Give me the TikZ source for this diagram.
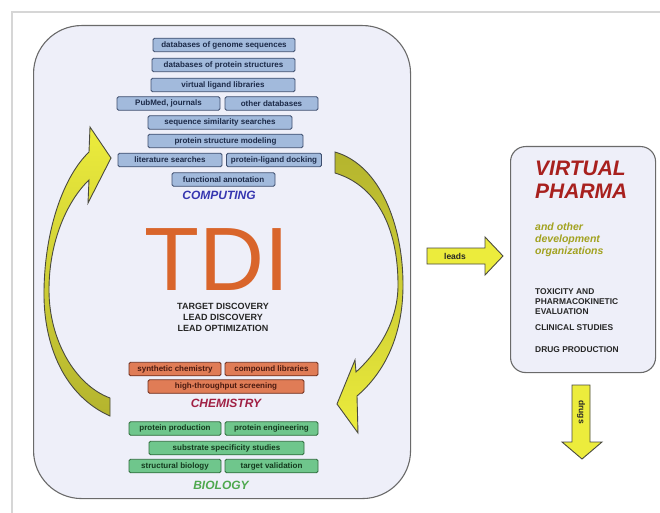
\documentclass[tikz,border=0pt]{standalone}
\usepackage{fontspec}
\setmainfont{Liberation Sans}
\definecolor{mainfill}{HTML}{EEEFF9}
\definecolor{mainline}{HTML}{6A6A6A}
\definecolor{bfill}{HTML}{A2BADC}
\definecolor{bline}{HTML}{3E4E6E}
\definecolor{btext}{HTML}{1C2A48}
\definecolor{ofill}{HTML}{E07C56}
\definecolor{oline}{HTML}{6E2E1E}
\definecolor{otext}{HTML}{4A1A10}
\definecolor{gfill}{HTML}{6FC68C}
\definecolor{gline}{HTML}{2E6C3C}
\definecolor{gtext}{HTML}{143A1E}
\definecolor{tdi}{HTML}{D9652B}
\definecolor{comp}{HTML}{3636B0}
\definecolor{chem}{HTML}{A02044}
\definecolor{bio}{HTML}{4EA84E}
\definecolor{vp}{HTML}{A8201E}
\definecolor{olivet}{HTML}{A2A220}
\definecolor{ylw}{HTML}{ECEC3C}
\definecolor{ylwdark}{HTML}{B4B42E}
\definecolor{arrline}{HTML}{4A4A40}
\definecolor{frame}{HTML}{D6D6D6}
\begin{document}
\begin{tikzpicture}[x=1pt,y=-1pt,
  tbox/.style={draw, rounded corners=1.5pt, minimum height=13.5pt, inner sep=0pt,
    line width=0.9pt, font=\fontsize{8}{8}\selectfont\bfseries},
  bluebox/.style={tbox, fill=bfill, draw=bline, text=btext},
  orangebox/.style={tbox, fill=ofill, draw=oline, text=otext},
  greenbox/.style={tbox, fill=gfill, draw=gline, text=gtext},
  grouplabel/.style={font=\fontsize{12}{12}\selectfont\bfseries\itshape, inner sep=0pt},
  smallcaps/.style={font=\fontsize{9}{11}\selectfont\bfseries, align=center, inner sep=0pt, text=black!85},
  yarrow/.style={draw=arrline, line width=0.9pt, fill=ylw},
  curvearrow/.style={draw=arrline, line width=0.9pt},
  panel/.style={draw=mainline, line width=1.1pt, fill=mainfill}
]
\useasboundingbox (0,0) rectangle (660,513);
% outer frame
\draw[frame, line width=2pt] (12,513) -- (12,12) -- (660,12);

% main panel
\node[panel, rounded corners=48pt, minimum width=377pt, minimum height=473pt, anchor=north west] (main) at (33,25) {};

% computing boxes
\node[bluebox, minimum width=142pt] (b1) at (224,45) {databases of genome sequences};
\node[bluebox, minimum width=143pt] (b2) at (223.5,65) {databases of protein structures};
\node[bluebox, minimum width=144pt] (b3) at (223,85) {virtual ligand libraries};
\node[bluebox, minimum width=103pt] (b4) at (168.5,103.5) {PubMed, journals};
\node[bluebox, minimum width=93pt] (b5) at (271.5,103.5) {other databases};
\node[bluebox, minimum width=144pt] (b6) at (220,122.5) {sequence similarity searches};
\node[bluebox, minimum width=155pt] (b7) at (225.5,141) {protein structure modeling};
\node[bluebox, minimum width=104pt] (b8) at (170,160) {literature searches};
\node[bluebox, minimum width=95pt] (b9) at (274,160) {protein-ligand docking};
\node[bluebox, minimum width=103pt] (b10) at (223.5,179.5) {functional annotation};
\node[grouplabel, text=comp] (computing) at (219,195) {COMPUTING};

% TDI
\node[font=\fontsize{90}{90}\selectfont, text=tdi, draw=tdi, line width=0pt, draw opacity=0, inner sep=0pt, text depth=0pt, anchor=base] (tdi) at (217,290) {TDI};
\node[smallcaps] (phases) at (223,317) {TARGET DISCOVERY\\LEAD DISCOVERY\\LEAD OPTIMIZATION};

% chemistry
\node[orangebox, minimum width=92pt] (o1) at (175,369) {synthetic chemistry};
\node[orangebox, minimum width=93pt] (o2) at (271.5,369) {compound libraries};
\node[orangebox, minimum width=156pt] (o3) at (226,386.5) {high-throughput screening};
\node[grouplabel, text=chem] (chemistry) at (226,403) {CHEMISTRY};

% biology
\node[greenbox, minimum width=92pt] (g1) at (175,428.5) {protein production};
\node[greenbox, minimum width=93pt] (g2) at (271.5,428.5) {protein engineering};
\node[greenbox, minimum width=155pt] (g3) at (226.5,448) {substrate specificity studies};
\node[greenbox, minimum width=92pt] (g4) at (175,466) {structural biology};
\node[greenbox, minimum width=93pt] (g5) at (271.5,466) {target validation};
\node[grouplabel, text=bio] (biology) at (221,485) {BIOLOGY};

% left curved arrow (up)
\path[curvearrow, top color=ylw, bottom color=ylwdark]
  (110,416) .. controls (65,396) and (43,346) .. (44,290)
  .. controls (45,228) and (64,176) .. (89,152)
  -- (90,127) -- (111,158) -- (88,203) -- (89,180)
  .. controls (68,200) and (49,240) .. (49,290)
  .. controls (49,340) and (75,385) .. (110,398) -- cycle;

% right curved arrow (down)
\path[curvearrow, top color=ylwdark, bottom color=ylw]
  (335,152) .. controls (380,165) and (403,225) .. (403,285)
  .. controls (403,335) and (385,372) .. (357,396)
  -- (358,433) -- (337,404) -- (355,360) -- (356,372)
  .. controls (380,350) and (398,320) .. (398,285)
  .. controls (398,225) and (375,185) .. (335,173) -- cycle;

% right panel
\node[panel, rounded corners=15pt, minimum width=145pt, minimum height=226pt, anchor=north west] (vp) at (510,146) {};
\node[anchor=west, inner sep=0pt, text=vp, font=\fontsize{21}{22}\selectfont\bfseries\itshape] (virtual) at (535,168) {VIRTUAL};
\node[anchor=west, inner sep=0pt, text=vp, font=\fontsize{21}{22}\selectfont\bfseries\itshape] (pharma) at (535,191) {PHARMA};
\node[anchor=north west, inner sep=0pt, text=olivet, align=left, font=\fontsize{10.5}{12}\selectfont\bfseries\itshape] (other) at (535,223) {and other\\development\\organizations};
\node[anchor=north west, inner sep=0pt, align=left, text=black!85, font=\fontsize{8.4}{10}\selectfont\bfseries] (tox) at (535,288) {TOXICITY AND\\PHARMACOKINETIC\\EVALUATION};
\node[anchor=west, inner sep=0pt, text=black!85, font=\fontsize{8.4}{10}\selectfont\bfseries] (clin) at (535,328) {CLINICAL STUDIES};
\node[anchor=west, inner sep=0pt, text=black!85, font=\fontsize{8.4}{10}\selectfont\bfseries] (drug) at (535,350) {DRUG PRODUCTION};

% leads arrow
\path[yarrow] (427,248) -- (485,248) -- (485,237) -- (503,256) -- (485,275) -- (485,264) -- (427,264) -- cycle;
\node[font=\fontsize{8.5}{9}\selectfont\bfseries, text=black!85, inner sep=0pt] (leads) at (455,256) {leads};

% drugs arrow
\path[yarrow] (572,385) -- (590,385) -- (590,442) -- (602,442) -- (582,459) -- (562,442) -- (572,442) -- cycle;
\node[rotate=-90, font=\fontsize{8.5}{9}\selectfont\bfseries, text=black!85, inner sep=0pt] (drugs) at (581,412) {drugs};
\end{tikzpicture}
\end{document}
